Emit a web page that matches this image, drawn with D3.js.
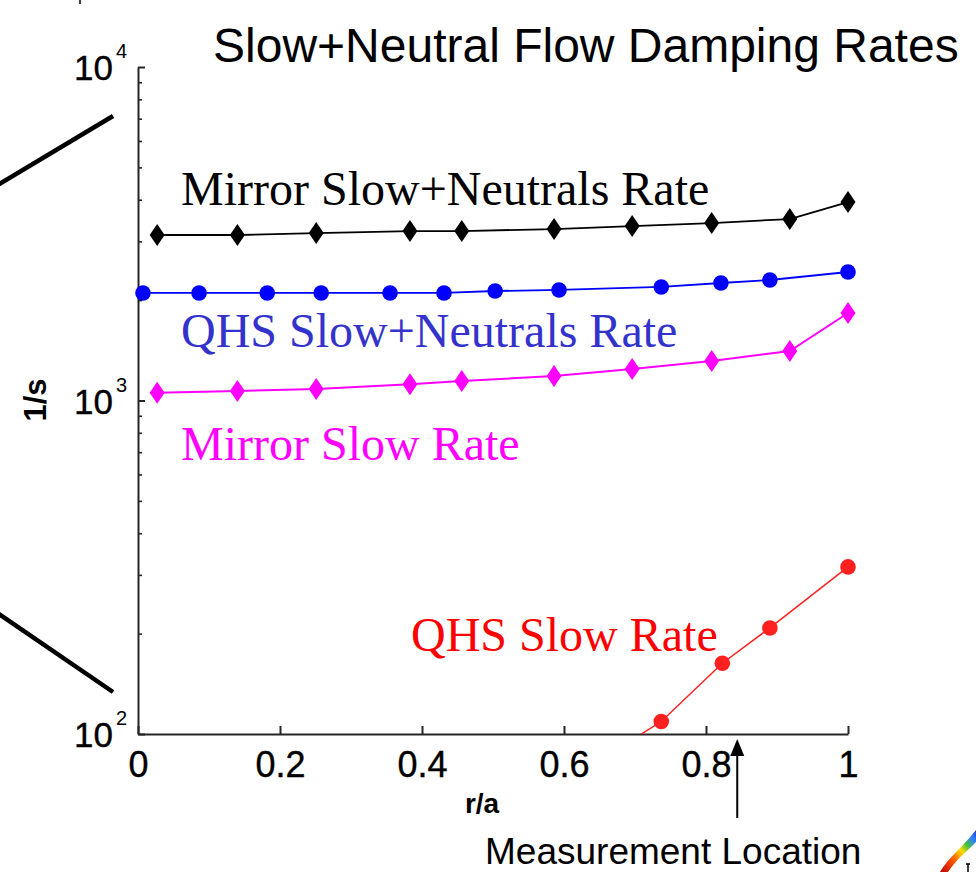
<!DOCTYPE html>
<html><head><meta charset="utf-8">
<script src="https://cdn.jsdelivr.net/npm/d3@7"></script>
<style>body{margin:0;background:#fff}svg{display:block}</style>
</head><body><svg id="c" width="976" height="872"></svg>
<script>
// ---- data ----
const titleText = "Slow+Neutral Flow Damping Rates";
const xLabel = "r/a";
const yLabel = "1/s";
const xTickValues = [0, 0.2, 0.4, 0.6, 0.8, 1];
const yMajorTicks = [100, 1000, 10000];
const yTickExponents = ["2", "3", "4"];
const yMinorTicks = [200,300,400,500,600,700,800,900,2000,3000,4000,5000,6000,7000,8000,9000];

const mirrorR = [0.027, 0.140, 0.251, 0.383, 0.456, 0.586, 0.696, 0.808, 0.918, 1.0];
const mirrorSlowNeutrals = [3135, 3135, 3178, 3222, 3222, 3266, 3335, 3405, 3500, 3937];
const mirrorSlow = [1055, 1068, 1083, 1118, 1144, 1184, 1243, 1314, 1407, 1830];

const qhsR = [0.007, 0.086, 0.182, 0.258, 0.355, 0.431, 0.503, 0.593, 0.737, 0.821, 0.890, 1.0];
const qhsSlowNeutrals = [2101, 2101, 2101, 2101, 2101, 2101, 2130, 2145, 2190, 2251, 2298, 2428];

const qhsSlowR = [0.593, 0.737, 0.823, 0.890, 1.0];
const qhsSlow = [70, 109, 163, 208, 317];

const seriesNames = ["Mirror Slow+Neutrals Rate", "QHS Slow+Neutrals Rate", "Mirror Slow Rate", "QHS Slow Rate"];
const measurementR = 0.844;
const measurementText = "Measurement Location";

// ---- setup ----
const svg = d3.select("#c");
const W = 976, H = 872;
const x = d3.scaleLinear().domain([0, 1]).range([138, 848]);
const y = d3.scaleLog().domain([100, 10000]).range([734, 67]);
const SANS = "'Liberation Sans', Arial, Helvetica, sans-serif";
const SERIF = "'Liberation Serif', 'Times New Roman', Times, serif";

svg.append("rect").attr("width", W).attr("height", H).attr("fill", "#fff");

// decorative lines on the left (from slide)
svg.append("line").attr("x1", 113).attr("y1", 116).attr("x2", -4).attr("y2", 186)
  .attr("stroke", "#000").attr("stroke-width", 4.5);
svg.append("line").attr("x1", -4).attr("y1", 612).attr("x2", 113).attr("y2", 692)
  .attr("stroke", "#000").attr("stroke-width", 4.5);
svg.append("line").attr("x1", 80).attr("y1", 0).attr("x2", 80).attr("y2", 4)
  .attr("stroke", "#000").attr("stroke-width", 1.5);

// title
svg.append("text").attr("x", 213).attr("y", 62).attr("font-family", SANS)
  .attr("font-size", 48).attr("fill", "#000").text(titleText);

// axes
const axColor = "#262626";
const xAxis = d3.axisBottom(x).tickValues(xTickValues).tickSizeInner(-8).tickSizeOuter(0)
  .tickPadding(17).tickFormat(d3.format(""));
const gx = svg.append("g").attr("transform", "translate(0,734)").call(xAxis);
gx.select(".domain").attr("stroke", axColor).attr("stroke-width", 2);
gx.selectAll(".tick line").attr("stroke", axColor).attr("stroke-width", 2);
gx.selectAll(".tick text").attr("font-family", SANS).attr("font-size", 36).attr("fill", "#000")
  .attr("stroke", "#000").attr("stroke-width", 0.4);

const yAxisMajor = d3.axisLeft(y).tickValues(yMajorTicks).tickSizeInner(-7).tickSizeOuter(0).tickFormat("");
const gy = svg.append("g").attr("transform", "translate(138,0)").call(yAxisMajor);
gy.select(".domain").attr("stroke", axColor).attr("stroke-width", 2);
gy.selectAll(".tick line").attr("stroke", axColor).attr("stroke-width", 2);
const yAxisMinor = d3.axisLeft(y).tickValues(yMinorTicks).tickSizeInner(-4).tickSizeOuter(0).tickFormat("");
const gym = svg.append("g").attr("transform", "translate(138,0)").call(yAxisMinor);
gym.select(".domain").remove();
gym.selectAll(".tick line").attr("stroke", axColor).attr("stroke-width", 1.6);

// y tick labels 10^n
yMajorTicks.forEach((v, i) => {
  svg.append("text").attr("x", 113).attr("y", y(v) + 13).attr("text-anchor", "end")
    .attr("font-family", SANS).attr("font-size", 35).attr("fill", "#000")
    .attr("stroke", "#000").attr("stroke-width", 0.4).text("10");
  svg.append("text").attr("x", 116).attr("y", y(v) - 9).attr("text-anchor", "start")
    .attr("font-family", SANS).attr("font-size", 20).attr("fill", "#000").text(yTickExponents[i]);
});

// axis labels
svg.append("text").attr("x", 482).attr("y", 813).attr("text-anchor", "middle")
  .attr("font-family", SANS).attr("font-size", 28).attr("font-weight", "bold").attr("fill", "#000").text(xLabel);
svg.append("text").attr("transform", "translate(46,400) rotate(-90)").attr("text-anchor", "middle")
  .attr("font-family", SANS).attr("font-size", 31).attr("font-weight", "bold").attr("fill", "#000").text(yLabel);

// clip for plotting area
svg.append("clipPath").attr("id", "plotclip").append("rect")
  .attr("x", 128).attr("y", 40).attr("width", 740).attr("height", 694);
const plot = svg.append("g").attr("clip-path", "url(#plotclip)");

const line = d3.line().x(d => x(d[0])).y(d => y(d[1]));
const diamond = "M0,-11L7.5,0L0,11L-7.5,0Z";

function drawSeries(rs, vs, color, marker, lw) {
  const pts = rs.map((r, i) => [r, vs[i]]);
  plot.append("path").datum(pts).attr("d", line).attr("fill", "none")
    .attr("stroke", color).attr("stroke-width", lw);
  const g = plot.append("g");
  pts.forEach(p => {
    if (marker === "diamond") {
      g.append("path").attr("d", diamond)
        .attr("transform", `translate(${x(p[0])},${y(p[1])})`).attr("fill", color);
    } else {
      g.append("circle").attr("cx", x(p[0])).attr("cy", y(p[1])).attr("r", 7.8).attr("fill", color);
    }
  });
}
drawSeries(mirrorR, mirrorSlowNeutrals, "#000000", "diamond", 1.8);
drawSeries(qhsR, qhsSlowNeutrals, "#0000ff", "circle", 1.8);
drawSeries(mirrorR, mirrorSlow, "#ff00ff", "diamond", 2);
drawSeries(qhsSlowR, qhsSlow, "#ff2020", "circle", 1.5);

// series labels
const labelSpecs = [
  {t: seriesNames[0], x: 181, y: 205, c: "#000000"},
  {t: seriesNames[1], x: 181, y: 347, c: "#3333cc"},
  {t: seriesNames[2], x: 181, y: 460, c: "#ff00ff"},
  {t: seriesNames[3], x: 411, y: 651, c: "#ff0000"}
];
labelSpecs.forEach(s => {
  svg.append("text").attr("x", s.x).attr("y", s.y).attr("font-family", SERIF)
    .attr("font-size", 48).attr("fill", s.c).text(s.t);
});

// measurement arrow
const mx = x(measurementR);
svg.append("line").attr("x1", mx).attr("x2", mx).attr("y1", 818).attr("y2", 752)
  .attr("stroke", "#000").attr("stroke-width", 2);
svg.append("path").attr("d", `M${mx},739L${mx + 7},756L${mx - 7},756Z`).attr("fill", "#000");
svg.append("text").attr("x", 485).attr("y", 864).attr("font-family", SANS)
  .attr("font-size", 37).attr("fill", "#000").text(measurementText);

// small logo fragment in the corner
const grad = svg.append("defs").append("linearGradient").attr("id", "rb")
  .attr("x1", "0").attr("y1", "1").attr("x2", "1").attr("y2", "0");
[["0", "#c00000"], ["0.35", "#ff6000"], ["0.55", "#ffe000"], ["0.7", "#40c040"], ["0.85", "#3080ff"], ["1", "#2040c0"]]
  .forEach(s => grad.append("stop").attr("offset", s[0]).attr("stop-color", s[1]));
svg.append("path").attr("d", "M940,872 C948,858 960,850 976,830 L976,842 C966,852 956,860 948,872 Z")
  .attr("fill", "url(#rb)");
svg.append("path").attr("d", "M968,864 L968,872 M966,864 L970,864").attr("stroke", "#000").attr("stroke-width", 1.5);
</script></body></html>
